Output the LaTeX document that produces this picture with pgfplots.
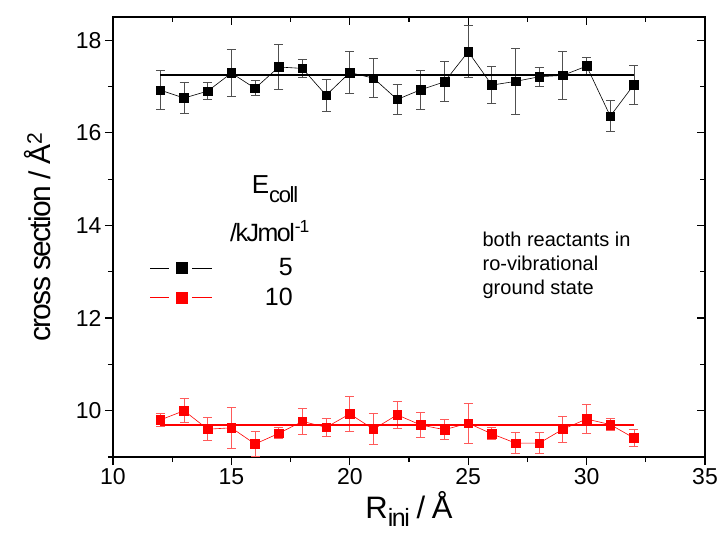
\documentclass[border=0pt]{standalone}
\usepackage{fontspec}
\setmainfont{Liberation Sans}
\newfontfamily\tight{Liberation Sans}[LetterSpace=-6]
\usepackage{pgfplots}
\pgfplotsset{compat=1.18}
\usepackage{pgfplotstable}

% E_coll = 5 kJ/mol
\pgfplotstableread{
x y e
12 16.92 0.42
13 16.75 0.33
14 16.90 0.19
15 17.29 0.50
16 16.96 0.16
17 17.42 0.48
18 17.39 0.20
19 16.81 0.35
20 17.30 0.46
21 17.18 0.42
22 16.72 0.33
23 16.93 0.42
24 17.10 0.43
25 17.75 0.56
26 17.03 0.40
27 17.11 0.71
28 17.21 0.21
29 17.24 0.52
30 17.44 0.18
31 16.36 0.34
32 17.04 0.42
}\fivedata

% E_coll = 10 kJ/mol
\pgfplotstableread{
x y e
12 9.80 0.15
13 10.00 0.26
14 9.60 0.25
15 9.63 0.45
16 9.28 0.27
17 9.51 0.12
18 9.77 0.28
19 9.64 0.20
20 9.93 0.38
21 9.60 0.33
22 9.91 0.29
23 9.69 0.27
24 9.59 0.22
25 9.73 0.43
26 9.50 0.13
27 9.30 0.22
28 9.30 0.23
29 9.60 0.28
30 9.82 0.31
31 9.70 0.13
32 9.41 0.18
}\tendata

\definecolor{errred}{RGB}{255,90,90}
\definecolor{errgray}{RGB}{80,80,80}

\begin{document}
\begin{tikzpicture}
\begin{axis}[
  name=main,
  scale only axis, width=592bp, height=440bp,
  xmin=10, xmax=35, ymin=9, ymax=18.5,
  xtick={10,15,...,35}, minor xtick={12.5,17.5,...,32.5},
  ytick={10,12,...,18}, minor ytick={9,11,...,17},
  tick align=outside, xtick pos=left, ytick pos=left,
  major tick length=8bp, minor tick length=5bp,
  axis line style={line width=1.2bp},
  every tick/.style={black, line width=1.2bp},
  ticklabel style={font=\fontsize{23bp}{26bp}\selectfont},
  /pgf/number format/assume math mode=true,
  xlabel={\tight R\raisebox{-0.25em}{\fontsize{25bp}{25bp}\selectfont ini} / Å},
  ylabel={\tight cross section / Å\textsuperscript{2}},
  xlabel style={font=\fontsize{31bp}{33bp}\selectfont},
  ylabel style={font=\fontsize{30bp}{32bp}\selectfont},
  xlabel shift=0bp, ylabel shift=18bp,
  legend style={draw=none, fill=none, at={(axis cs:11.56,12.76)}, anchor=west,
    inner sep=0pt, row sep=7bp, font=\fontsize{25bp}{26bp}\selectfont},
  legend image code/.code={
    \draw[#1, mark=none] (0bp,0bp) -- (19bp,0bp) (42bp,0bp) -- (62bp,0bp);
    \draw[#1] plot[only marks, mark size=5.5bp] coordinates {(31bp,0bp)};
  },
]
\addplot[black, line width=0.6bp, mark=square*, mark size=4.3bp,
  error bars/.cd, y dir=both, y explicit,
  error bar style={errgray, line width=0.9bp},
  error mark options={errgray, line width=0.9bp, mark size=4.5bp, rotate=90}]
  table[x=x, y=y, y error=e] {\fivedata};
\addlegendentry{\makebox[78bp][r]{5}}
\addplot[red, line width=0.6bp, mark=square*, mark size=4.3bp,
  error bars/.cd, y dir=both, y explicit,
  error bar style={errred, line width=0.9bp},
  error mark options={errred, line width=0.9bp, mark size=4.5bp, rotate=90}]
  table[x=x, y=y, y error=e] {\tendata};
\addlegendentry{\makebox[78bp][r]{10}}
\addplot[black, line width=2bp, forget plot] coordinates {(12,17.24) (32,17.24)};
\addplot[red, line width=2bp, forget plot] coordinates {(12,9.70) (32,9.70)};

\node[font=\tight\fontsize{26bp}{28bp}\selectfont, anchor=base] at (axis cs:16.84,14.70)
  {E\raisebox{-0.35em}{\fontsize{22bp}{22bp}\selectfont coll}};
\node[font=\tight\fontsize{25bp}{26bp}\selectfont, anchor=base] at (axis cs:16.63,13.66)
  {/kJmol\textsuperscript{-1}};
\node[anchor=north west, align=left, inner sep=0pt,
  font=\fontsize{20bp}{24bp}\selectfont] at (axis cs:25.6,13.86)
  {both reactants in\\ro-vibrational\\ground state};
\end{axis}
\begin{axis}[
  at={(main.south west)}, anchor=south west,
  scale only axis, width=592bp, height=440bp,
  xmin=10, xmax=35, ymin=9, ymax=18.5,
  xtick={10,15,...,35}, minor xtick={12.5,17.5,...,32.5},
  ytick={10,12,...,18}, minor ytick={9,11,...,17},
  tick align=inside, xtick pos=right, ytick pos=right,
  major tick length=8bp, minor tick length=5bp,
  axis line style={draw=none},
  every tick/.style={black, line width=1.2bp},
  xticklabels={}, yticklabels={},
]
\end{axis}
\pgfresetboundingbox
\path ([xshift=-113bp,yshift=-77bp]main.south west) rectangle ([xshift=20bp,yshift=17bp]main.north east);
\end{tikzpicture}
\end{document}
